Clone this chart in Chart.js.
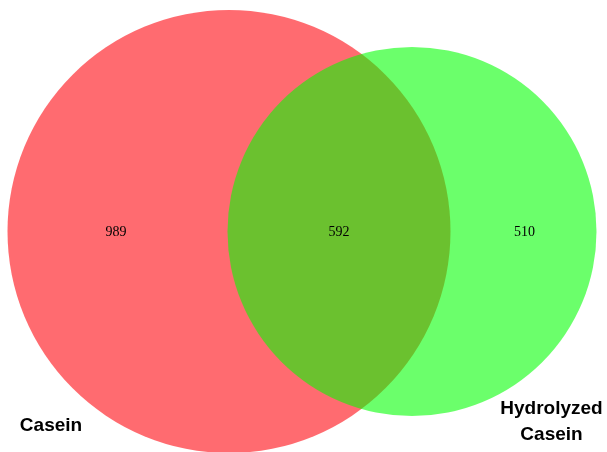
<!DOCTYPE html>
<html>
<head>
<meta charset="utf-8">
<script src="https://cdn.jsdelivr.net/npm/chart.js@4/dist/chart.umd.min.js"></script>
<style>
    html, body { margin: 0; padding: 0; background: #fff; }
    #canvas { display: block; }
</style>
</head>
<body>
<canvas id="canvas" width="607" height="452"></canvas>
<script>
let setNames = ['Casein', 'Hydrolyzed\nCasein']
let regionCounts = [989, 592, 510]
let circleX = [229, 412]
let circleY = [231.5, 231.5]
let circleR = [221.5, 184.5]
let circleColors = ['rgba(255, 0, 8, 0.58)', 'rgba(0, 255, 0, 0.58)']

// where the counts and set names sit (plot units)
const countPos = [[116, 232], [339, 232], [524.5, 232]]
const namePos = [[51, 426], [551.5, 409]]

const radiusPx = function (ctx) {
    const x = ctx.chart.scales.x
    const r = circleR[ctx.datasetIndex]
    return Math.abs(x.getPixelForValue(r) - x.getPixelForValue(0))
}

const labelsConfig = {
    id: 'vennLabels',
    afterDatasetsDraw(chart) {
        const { ctx, scales: { x, y } } = chart
        ctx.save()
        ctx.fillStyle = '#000'
        ctx.textAlign = 'center'
        ctx.textBaseline = 'middle'
        ctx.font = '14px "Liberation Serif", "Times New Roman", serif'
        regionCounts.forEach((c, i) => {
            ctx.fillText(String(c), x.getPixelForValue(countPos[i][0]), y.getPixelForValue(countPos[i][1]))
        })
        ctx.font = 'bold 19px "Liberation Sans", Arial, sans-serif'
        setNames.forEach((n, i) => {
            const lines = n.split('\n')
            lines.forEach((line, j) => {
                ctx.fillText(line, x.getPixelForValue(namePos[i][0]), y.getPixelForValue(namePos[i][1]) + j * 26)
            })
        })
        ctx.restore()
    }
}

let configChart = {
    type: 'bubble',
    plugins: [labelsConfig],
    data: {
        datasets: circleX.map((cx, i) => ({
            label: setNames[i],
            data: [{ x: cx, y: circleY[i], r: circleR[i] }],
            backgroundColor: circleColors[i],
            borderWidth: 0,
            hoverBorderWidth: 0,
            radius: radiusPx,
            hoverRadius: radiusPx,
            order: circleX.length - i
        }))
    },
    options: {
        responsive: false,
        animation: false,
        events: [],
        layout: { padding: 0, autoPadding: false },
        plugins: {
            legend: { display: false },
            tooltip: { enabled: false }
        },
        scales: {
            x: { type: 'linear', min: 0, max: 607, display: false },
            y: { type: 'linear', min: 0, max: 452, reverse: true, display: false }
        },
        clip: false
    }
}

const canvas = document.getElementById('canvas')
const myChart = new Chart(canvas, configChart)
</script>
</body>
</html>
